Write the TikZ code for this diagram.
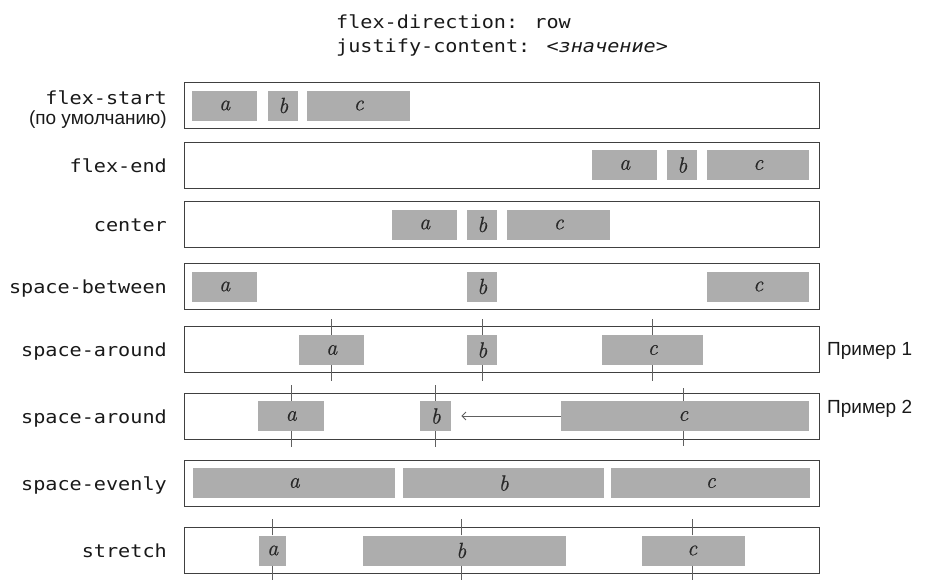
\documentclass[tikz,border=0pt]{standalone}
\usepackage{fontspec}
\setmainfont{Latin Modern Roman}
\newfontfamily\codefont[FakeStretch=1.12]{DejaVu Sans Mono}
\newfontfamily\rusans{Liberation Sans}
\newfontfamily\itemfont[FakeBold=0.6]{Latin Modern Roman}
\usetikzlibrary{arrows.meta}
\definecolor{itemgray}{HTML}{ADADAD}
\definecolor{framegray}{HTML}{404040}
\definecolor{tickgray}{HTML}{606060}
\definecolor{lettergray}{HTML}{282828}
\begin{document}
\begin{tikzpicture}[x=1pt,y=-1pt,
  rowbox/.style={draw=framegray, line width=1.2pt, fill=white, minimum width=635pt,
    minimum height=46pt, inner sep=0pt, anchor=north west},
  item/.style={fill=itemgray, inner sep=0pt, minimum height=30pt, anchor=west,
    text=lettergray, font=\itemfont\fontsize{22}{22}\selectfont\itshape},
  code/.style={font=\codefont\fontsize{18}{20}\selectfont, inner sep=0pt, anchor=base east, text=black!90},
  rulabel/.style={font=\rusans\fontsize{19}{21}\selectfont, inner sep=0pt, text=black!90},
  tickmark/.style={draw=tickgray, line width=0.8pt},
  moveline/.style={draw=tickgray, line width=0.8pt, -{Straight Barb[length=4pt,width=8pt]}}
]
\useasboundingbox (0,0) rectangle (927,579);

% title
\node[code, anchor=base west] (t1) at (336,28) {flex-direction: row};
\node[code, anchor=base west] (t2) at (336,52) {justify-content: <{\itshape значение}>};

% row boxes
\node[rowbox] (r1) at (184,82) {};
\node[rowbox] (r2) at (184,141.5) {};
\node[rowbox] (r3) at (184,201) {};
\node[rowbox] (r4) at (184,263) {};
\node[rowbox] (r5) at (184,326) {};
\node[rowbox] (r6) at (184,392.5) {};
\node[rowbox] (r7) at (184,460) {};
\node[rowbox] (r8) at (184,527) {};

% labels
\node[code] (l1) at (167,104) {flex-start};
\node[rulabel, anchor=base east] (l1b) at (167,124) {(по умолчанию)};
\node[code] (l2) at (167,172) {flex-end};
\node[code] (l3) at (167,231.5) {center};
\node[code] (l4) at (167,293.5) {space-between};
\node[code] (l5) at (167,356.5) {space-around};
\node[code] (l6) at (167,423) {space-around};
\node[code] (l7) at (167,490.5) {space-evenly};
\node[code] (l8) at (167,557.5) {stretch};

\node[rulabel, anchor=base west] (p1) at (827,355) {Пример 1};
\node[rulabel, anchor=base west] (p2) at (827,413) {Пример 2};

% row 1: flex-start
\node[item, minimum width=65pt] (a1) at (192,105.5) {a};
\node[item, minimum width=30pt] (b1) at (268,105.5) {b};
\node[item, minimum width=103pt] (c1) at (307,105.5) {c};
% row 2: flex-end
\node[item, minimum width=65pt] (a2) at (592,165) {a};
\node[item, minimum width=30pt] (b2) at (667,165) {b};
\node[item, minimum width=102pt] (c2) at (707,165) {c};
% row 3: center
\node[item, minimum width=65pt] (a3) at (392,224.5) {a};
\node[item, minimum width=30pt] (b3) at (467,224.5) {b};
\node[item, minimum width=103pt] (c3) at (507,224.5) {c};
% row 4: space-between
\node[item, minimum width=65pt] (a4) at (192,286.5) {a};
\node[item, minimum width=30pt] (b4) at (467,286.5) {b};
\node[item, minimum width=102pt] (c4) at (707,286.5) {c};
% row 5: space-around, example 1
\node[item, minimum width=65pt] (a5) at (299,350) {a};
\node[item, minimum width=30pt] (b5) at (467,350) {b};
\node[item, minimum width=101pt] (c5) at (602,350) {c};
% row 6: space-around, example 2
\node[item, minimum width=66pt] (a6) at (258,416) {a};
\node[item, minimum width=31pt] (b6) at (420,416) {b};
\node[item, minimum width=248pt] (c6) at (561,416) {\hspace*{-4pt}c};
% row 7: space-evenly
\node[item, minimum width=202pt] (a7) at (193,483) {a};
\node[item, minimum width=201pt] (b7) at (403,483) {b};
\node[item, minimum width=199pt] (c7) at (611,483) {c};
% row 8: stretch
\node[item, minimum width=27pt] (a8) at (259,550.5) {a};
\node[item, minimum width=203pt] (b8) at (363,550.5) {\hspace*{-7pt}b};
\node[item, minimum width=103pt] (c8) at (642,550.5) {\hspace*{-3pt}c};

% ticks
\foreach \n in {a5,b5,c5,a6,b6,a8} {
  \draw[tickmark] (\n.north) -- ++(0,-16);
  \draw[tickmark] (\n.south) -- ++(0,16);
}
\draw[tickmark] ([xshift=-2pt]c6.north) -- ++(0,-13);
\draw[tickmark] ([xshift=-2pt]c6.south) -- ++(0,15);
\draw[tickmark] ([xshift=-3.5pt]b8.north) -- ++(0,-16);
\draw[tickmark] ([xshift=-3.5pt]b8.south) -- ++(0,16);
\draw[tickmark] ([xshift=-1.5pt]c8.north) -- ++(0,-16);
\draw[tickmark] ([xshift=-1.5pt]c8.south) -- ++(0,16);

% arrow in example 2
\draw[moveline] (c6.west) -- ([xshift=10pt]b6.east);
\end{tikzpicture}
\end{document}
